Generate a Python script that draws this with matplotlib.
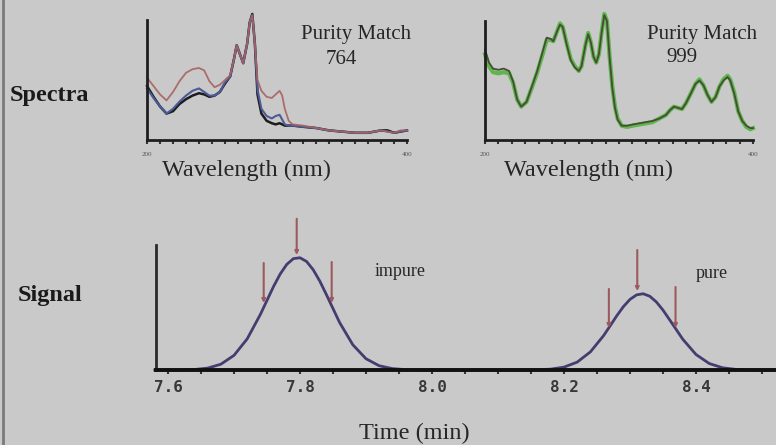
import matplotlib
matplotlib.use("Agg")
import matplotlib.pyplot as plt
from matplotlib.lines import Line2D
from matplotlib.ticker import MultipleLocator, FixedLocator

# --- spectra (wavelength nm, absorbance in % of axis height) ---
wl_a = [200, 205, 210, 215, 220, 225, 230, 235, 240, 244, 248, 252, 256, 260, 264,
        267, 269, 272, 274, 277, 279, 281, 283, 285, 288, 292, 296, 299, 302, 304,
        306, 309, 312, 320, 330, 340, 350, 360, 370, 375, 380, 385, 390, 395, 400]
red_a = [52, 45, 38, 33, 40, 49, 56, 59, 60, 58, 49, 44, 46, 50, 54,
         68, 79, 70, 64, 80, 98, 104, 80, 50, 41, 36, 35, 38, 41, 37,
         26, 16, 13, 12, 10, 8, 7, 6, 6, 7, 8, 7, 6, 8, 8]
blue_a = [43, 35, 28, 22, 26, 32, 37, 41, 43, 40, 37, 37, 40, 48, 53,
          68, 79, 70, 64, 80, 98, 104, 80, 42, 26, 20, 18, 20, 21, 17,
          13, 12, 12, 11, 10, 8, 7, 6, 6, 7, 8, 7, 6, 7, 8]
black_a = [45, 36, 28, 22, 24, 30, 34, 37, 39, 38, 36, 37, 40, 47, 53,
           68, 79, 70, 64, 80, 98, 105, 80, 38, 22, 16, 14, 13, 14, 13,
           12, 12, 12, 11, 10, 8, 7, 6, 6, 7, 8, 8, 6, 7, 8]

wl_b = [200, 203, 206, 210, 214, 218, 221, 224, 227, 231, 235, 239, 243, 246, 249,
        251, 254, 256, 258, 261, 264, 267, 270, 272, 275, 277, 279, 281, 283, 285,
        287, 289, 291, 293, 295, 297, 299, 302, 306, 310, 315, 320, 325, 330, 335,
        338, 341, 344, 347, 350, 354, 357, 360, 363, 366, 369, 372, 375, 378, 381,
        383, 386, 389, 392, 395, 398, 400]
green_b = [72, 62, 57, 56, 57, 56, 48, 34, 28, 32, 44, 57, 72, 84, 84,
           83, 92, 98, 95, 81, 68, 62, 58, 62, 80, 90, 82, 70, 65, 72,
           90, 106, 100, 70, 45, 28, 18, 12, 11, 12, 13, 14, 15, 18, 21,
           25, 28, 27, 26, 31, 40, 47, 51, 46, 38, 32, 36, 45, 51, 54,
           51, 40, 24, 16, 11, 9, 10]
brown_b = [76, 65, 60, 59, 60, 58, 49, 34, 28, 32, 45, 58, 74, 86, 85,
           83, 92, 97, 95, 80, 67, 61, 58, 62, 80, 89, 82, 70, 65, 72,
           90, 105, 100, 69, 44, 27, 17, 12, 12, 13, 14, 15, 16, 18, 21,
           25, 28, 27, 26, 31, 40, 47, 50, 46, 38, 32, 36, 45, 50, 53,
           50, 39, 24, 16, 12, 10, 10]

match_a = "764"
match_b = "999"

# --- chromatogram signal (time min, % of axis height) ---
sig_t = [7.58, 7.62, 7.64, 7.66, 7.68, 7.70, 7.72, 7.74, 7.75, 7.76, 7.77, 7.78, 7.79,
         7.80, 7.81, 7.82, 7.83, 7.84, 7.86, 7.88, 7.90, 7.92, 7.94, 7.96, 7.98,
         8.14, 8.16, 8.18, 8.20, 8.22, 8.24, 8.26, 8.27, 8.28, 8.29, 8.30, 8.31, 8.32,
         8.33, 8.34, 8.35, 8.36, 8.38, 8.40, 8.42, 8.44, 8.46, 8.48, 8.53]
sig_v = [0, 0.1, 0.4, 1.5, 4.6, 11.7, 24.9, 44.5, 55.7, 66.9, 76.8, 84.5, 89.1,
         89.8, 86.8, 80.2, 71.1, 60.3, 38.0, 20.2, 9.0, 3.4, 1.1, 0.3, 0,
         0, 0.2, 0.7, 2.3, 6.3, 14.5, 27.5, 35.4, 43.4, 50.7, 56.5, 60.1, 61,
         59.0, 54.4, 47.9, 40.2, 24.6, 12.4, 5.2, 1.8, 0.5, 0.1, 0]

# arrows: time, start value, tip value
arrow_t = [7.745, 7.795, 7.848, 8.268, 8.311, 8.369]
arrow_top = [85.6, 121, 86.4, 64.8, 96, 66.4]
arrow_tip = [53.6, 92, 53.6, 33.6, 63.2, 33.6]

time_ticks = [7.6, 7.8, 8.0, 8.2, 8.4]
time_labels = ["7.6", "7.8", "8.0", "8.2", "8.4"]

W, H = 776, 445
bg = "#c9c9c9"
ink = "#262626"
serif = "Liberation Serif"

fig = plt.figure(figsize=(W / 100, H / 100), dpi=100, facecolor=bg)


def box(x0, y_top, x1, y_bot):
    return [x0 / W, 1 - y_bot / H, (x1 - x0) / W, (y_bot - y_top) / H]


def spectra_axes(rect):
    ax = fig.add_axes(rect)
    ax.set_facecolor("none")
    ax.set_xlim(200, 400)
    ax.set_ylim(0, 100)
    for s in ["top", "right"]:
        ax.spines[s].set_visible(False)
    for s in ["left", "bottom"]:
        ax.spines[s].set_linewidth(2)
        ax.spines[s].set_color("#1e1e1e")
    ax.set_yticks([])
    ax.xaxis.set_major_locator(FixedLocator([200, 400]))
    ax.xaxis.set_minor_locator(MultipleLocator(10))
    ax.tick_params(axis="x", which="both", direction="out", length=3, width=1.5,
                   color="#333333", labelsize=5, labelcolor="#555555", pad=6)
    for lab in ax.get_xticklabels():
        lab.set_fontfamily(serif)
    return ax


ax1 = spectra_axes(box(147, 20, 407, 140))
ax1.plot(wl_a, black_a, color="#1c1c1c", lw=1.8, clip_on=False)
ax1.plot(wl_a, blue_a, color="#4d5a98", lw=1.5, clip_on=False)
ax1.plot(wl_a, red_a, color="#a86262", lw=1.3, alpha=0.9, clip_on=False)
fig.text(356 / W, 1 - 34 / H, "Purity Match", fontsize=15, family=serif, color=ink,
         ha="center", va="center")
fig.text(341 / W, 1 - 59 / H, match_a, fontsize=15, family=serif, color=ink,
         ha="center", va="center")
fig.text(246 / W, 1 - 170 / H, "Wavelength (nm)", fontsize=17.5, family=serif,
         color=ink, ha="center", va="center")

ax2 = spectra_axes(box(485, 21, 753, 140))
ax2.plot(wl_b, green_b, color="#5cb84a", lw=3.0, clip_on=False)
ax2.plot(wl_b, brown_b, color="#4a4a38", lw=1.3, clip_on=False)
fig.text(702 / W, 1 - 34 / H, "Purity Match", fontsize=15, family=serif, color=ink,
         ha="center", va="center")
fig.text(682 / W, 1 - 58 / H, match_b, fontsize=15, family=serif, color=ink,
         ha="center", va="center")
fig.text(589 / W, 1 - 170 / H, "Wavelength (nm)", fontsize=17.5, family=serif,
         color=ink, ha="center", va="center")

# chromatogram
ax3 = fig.add_axes(box(156, 245, 776, 370))
ax3.set_facecolor("none")
ax3.set_xlim(7.6 - 12 / 660, 7.6 + 608 / 660)
ax3.set_ylim(0, 100)
for s in ["top", "right"]:
    ax3.spines[s].set_visible(False)
ax3.spines["bottom"].set_linewidth(2.8)
ax3.spines["bottom"].set_color("#111111")
ax3.spines["left"].set_linewidth(2)
ax3.spines["left"].set_color("#2a2a2a")
ax3.set_yticks([])
ax3.set_xticks(time_ticks)
ax3.set_xticklabels(time_labels)
ax3.xaxis.set_minor_locator(MultipleLocator(0.05))
ax3.tick_params(axis="x", which="both", direction="out", length=3, width=1.5,
                color="#333333", pad=4)
for lab in ax3.get_xticklabels():
    lab.set_fontfamily("DejaVu Sans Mono")
    lab.set_fontweight("bold")
    lab.set_fontsize(11.5)
    lab.set_color("#383838")

ax3.plot(sig_t, sig_v, color="#433d70", lw=2, clip_on=False)
for t, y0, y1 in zip(arrow_t, arrow_top, arrow_tip):
    ax3.annotate("", xy=(t, y1), xytext=(t, y0), annotation_clip=False,
                 arrowprops=dict(arrowstyle="-|>", color="#9c5a5e", lw=1.5,
                                 mutation_scale=5, shrinkA=0, shrinkB=0))

fig.text(400 / W, 1 - 272 / H, "impure", fontsize=13, family=serif, color=ink,
         ha="center", va="center")
fig.text(712 / W, 1 - 274 / H, "pure", fontsize=13, family=serif, color=ink,
         ha="center", va="center")
fig.text(414 / W, 1 - 433 / H, "Time (min)", fontsize=17.5, family=serif, color=ink,
         ha="center", va="center")

fig.text(10 / W, 1 - 95 / H, "Spectra", fontsize=17.5, family=serif, weight="bold",
         color="#1a1a1a", ha="left", va="center")
fig.text(18 / W, 1 - 295 / H, "Signal", fontsize=17.5, family=serif, weight="bold",
         color="#1a1a1a", ha="left", va="center")

fig.add_artist(Line2D([2.5 / W, 2.5 / W], [0, 1], transform=fig.transFigure,
                      color="#7a7a7a", lw=2))

fig.savefig("out.png", dpi=100, facecolor=bg)
